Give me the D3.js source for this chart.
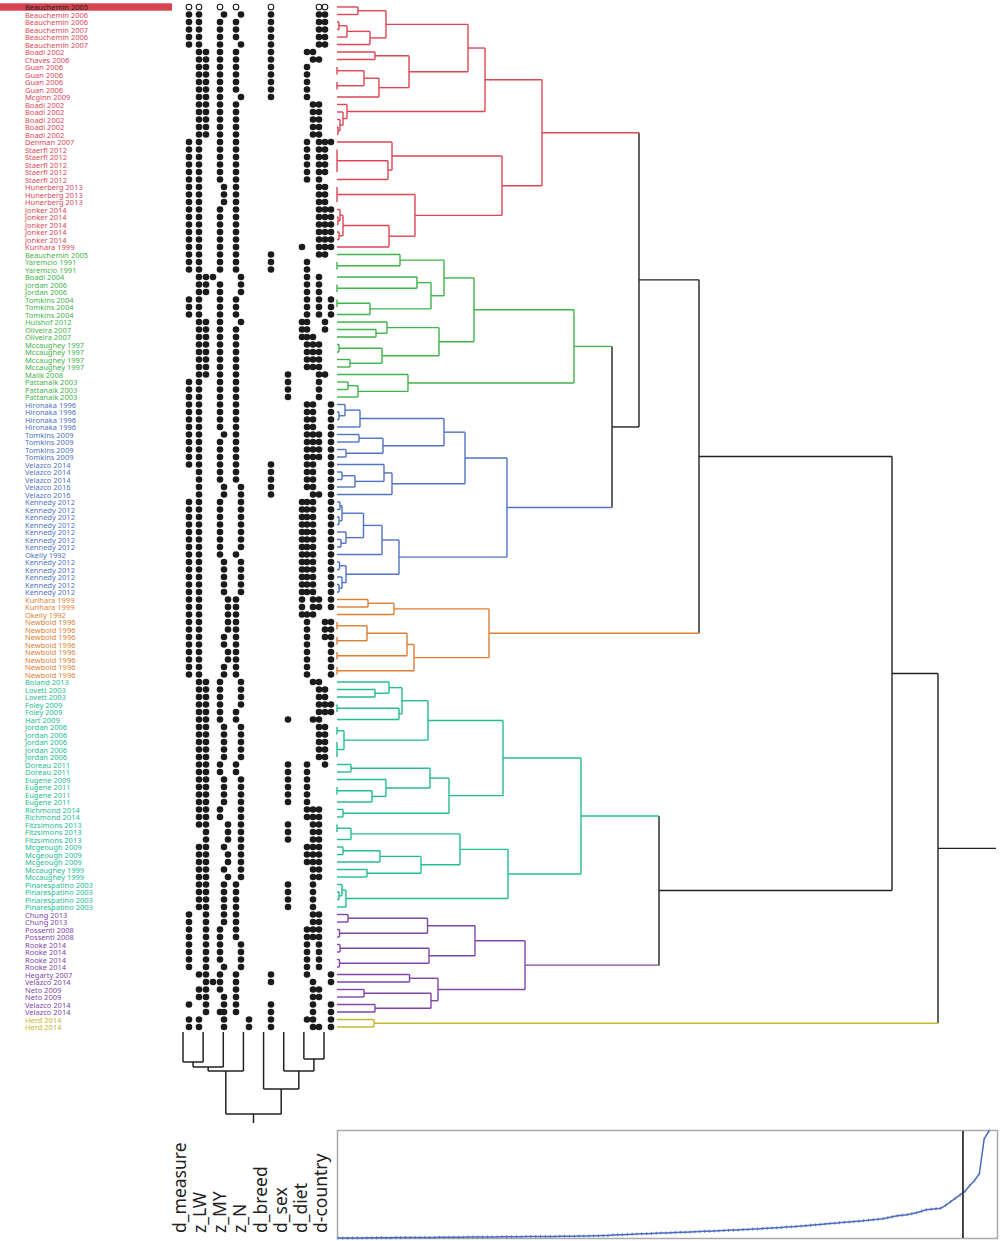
<!DOCTYPE html>
<html><head><meta charset="utf-8">
<script src="https://cdn.jsdelivr.net/npm/d3@7"></script>
<style>body{margin:0;background:#fff}</style>
</head><body><svg id="c" width="1000" height="1241"></svg>
<script>
// ---------------- DATA ----------------
const studies = [
"Beauchemin 2005","Beauchemin 2006","Beauchemin 2006","Beauchemin 2007","Beauchemin 2006","Beauchemin 2007",
"Boadi 2002","Chaves 2006","Guan 2006","Guan 2006","Guan 2006","Guan 2006","Mcginn 2009",
"Boadi 2002","Boadi 2002","Boadi 2002","Boadi 2002","Boadi 2002","Denman 2007",
"Staerfl 2012","Staerfl 2012","Staerfl 2012","Staerfl 2012","Staerfl 2012",
"Hunerberg 2013","Hunerberg 2013","Hunerberg 2013",
"Jonker 2014","Jonker 2014","Jonker 2014","Jonker 2014","Jonker 2014","Kurihara 1999",
"Beauchemin 2005","Yaremcio 1991","Yaremcio 1991","Boadi 2004","Jordan 2006","Jordan 2006",
"Tomkins 2004","Tomkins 2004","Tomkins 2004","Hulshof 2012","Oliveira 2007","Oliveira 2007",
"Mccaughey 1997","Mccaughey 1997","Mccaughey 1997","Mccaughey 1997","Malik 2008",
"Pattanaik 2003","Pattanaik 2003","Pattanaik 2003",
"Hironaka 1996","Hironaka 1996","Hironaka 1996","Hironaka 1996",
"Tomkins 2009","Tomkins 2009","Tomkins 2009","Tomkins 2009",
"Velazco 2014","Velazco 2014","Velazco 2014","Velazco 2016","Velazco 2016",
"Kennedy 2012","Kennedy 2012","Kennedy 2012","Kennedy 2012","Kennedy 2012","Kennedy 2012","Kennedy 2012",
"Okelly 1992","Kennedy 2012","Kennedy 2012","Kennedy 2012","Kennedy 2012","Kennedy 2012",
"Kurihara 1999","Kurihara 1999","Okelly 1992",
"Newbold 1996","Newbold 1996","Newbold 1996","Newbold 1996","Newbold 1996","Newbold 1996","Newbold 1996","Newbold 1996",
"Boland 2013","Lovett 2003","Lovett 2003","Foley 2009","Foley 2009","Hart 2009",
"Jordan 2006","Jordan 2006","Jordan 2006","Jordan 2006","Jordan 2006",
"Doreau 2011","Doreau 2011","Eugene 2009","Eugene 2011","Eugene 2011","Eugene 2011",
"Richmond 2014","Richmond 2014","Fitzsimons 2013","Fitzsimons 2013","Fitzsimons 2013",
"Mcgeough 2009","Mcgeough 2009","Mcgeough 2009","Mccaughey 1999","Mccaughey 1999",
"Pinarespatino 2003","Pinarespatino 2003","Pinarespatino 2003","Pinarespatino 2003",
"Chung 2013","Chung 2013","Possenti 2008","Possenti 2008",
"Rooke 2014","Rooke 2014","Rooke 2014","Rooke 2014",
"Hegarty 2007","Velazco 2014","Neto 2009","Neto 2009","Velazco 2014","Velazco 2014",
"Herd 2014","Herd 2014"
];
const clusterSizes = [33, 20, 26, 11, 31, 14, 2];
const clusterColors = ["#de4656", "#3fb449", "#5073c2", "#dc7f35", "#22bd91", "#8245aa", "#c4b92c"];
const highlightRow = 0;

const variables = ["d_measure", "z_LW", "z_MY", "z_N", "d_breed", "d_sex", "d_diet", "d-country"];

// dot slot values (position along the variable strip, in strip units 0..30)
const dotSlotValues = {a:1.8, b:3.8, c:5.2, x:6.6, d:8.0, e:8.8, r:9.6, f:11.2, g:12.2, h:13.8,
                       i:18.2, p:21.6, q:24.4, k:25.4, l:26.6, m:27.8, n:29.0, o:30.2};
const rowDots = [
"abdfimn","abegimn","abdfimn","abdfimn","abdfimn","abdgimn",
"bcdfikl","bcdfilm","bcdfik","bcdfik","bcdfik","bcdfik","bcdgik",
"bcdflm","bcdflm","bcdflm","bcdflm","bcdflm",
"abdfkmno",
"abdfkmn","abdfkmn","abdfkmn","abdfkmn","abdfkm",
"abefmn","abefmn","abefmn",
"abdfmno","abdfmno","abdfmno","abdfmno","abdfmno",
"abdfqmno",
"abdfimn","abdfik","abdfik",
"bcxgkm","bcdgkm","bcdgkm",
"abdfkmo","abdfkmo","abdfkmo",
"bcdgqkn","bcdfqkn","bcdfqkl",
"bcdfklm","bcdfklm","bcdfklm","bcdfklm",
"bcdfpmn",
"abdfpm","abdfpm","abdfpm",
"abdfklo","abdfklo","abdfklo","abdfklo",
"abefklmo","abdfklmo","abdfklmo","abdfklmo",
"abdfiklo","bdfiklo","bdfiklo","begiklo","begilmo",
"abdgqklo","abdgqklo","abdgqklo","abdgqklo","abdgqklo","abdgqklo","abdgqklo",
"abdfqklo",
"abegqklo","abegqklo","abegqklo","abegqklo","abegqklo",
"abrfqlmo","abrfqlmo","abrfqkl",
"abrfkno","abrfkno","abefkno","abefko","abrfko","abrfko","abefko","abefko",
"bcdglm","bcdgmn","bcdgmn","bcdgmno","bcdfmno","bcdfplm",
"bcegmn","bcegmn","bcegmn","bcegmn","bcegmn",
"bcdfpkn","bcdfpk",
"bcegpk","bcegpk","bcegpk","bcegpk",
"bcdgklm","bcdgklm",
"bcrgplm","crgplm","crgplm",
"bcegklm","bcrgklm","bcrgklm",
"bceglm","bcrglm",
"bcefpl","bcefpl","bcefpl","bcefpl",
"aceflm","aceflm","acdfklm","acdfklm",
"acdgkm","acdgkm","acdgkm","acegkm",
"bcdfiko","cxdfilo","bcdflm","bceflm","acefilo","cdefilo",
"abehiklo","abehilmo"
];

// row dendrogram: [mergeHeight, child, child, ...]; numbers are row numbers (1-based)
const rowTree =
[60.1,
  [55.5,
    [36.2,
      [30.2,
        [20.5,
          [14.8,
            [13.1,
              [4.9, [2.1,1,2], [3.3,[1.0,[0.2,3,4],5],6]],
              [7.2, [3.8,7,8], [4.2,[2.7,[0,9,10],[0,11,12]],13]]
            ],
            [1.0, 14, [0.6,15,[0.3,16,[0.1,17,18]]]]
          ],
          [16.5,
            [5.5, 19, [5.1,[0,20,21,22,23],24]],
            [7.8, [0,25,26,27], [5.2,[0.6,[0.3,28,[0.1,29,30]],[0.2,31,32]],33]]
          ]
        ],
        [27.5,
          [23.7,
            [13.7,
              [10.7, [6.3,34,[0,35,36]], [9.4,[8.0,37,[0,38,39]],[3.3,[0,40,41],42]]],
              [10.2, [5.0,43,[3.9,44,45]], [4.5,[0.2,46,47],[1.3,48,49]]]
            ],
            [7.1, 50, [2.1,[1.1,51,52],53]]
          ],
          [17.0,
            [12.8,
              [10.7, [2.3,[0.8,54,[0.2,55,56]],57], [4.6,[2.2,58,59],[0.9,60,61]]],
              [5.5, [4.7,62,[1.8,[0.5,63,64],65]], 66]
            ],
            [6.2,
              [4.5, [2.65,[0.5,[0.3,67,68],[0.2,69,70]],[0.9,71,[0.4,72,73]]], 74],
              [0.9, [0.25,75,76],[0.5,77,[0.2,78,79]]]
            ]
          ]
        ]
      ],
      [15.2,
        [5.7, [3.1,80,81], 82],
        [7.7, [7.0,[3.0,[0,83,84],[0,85,86]],[0,87,88]], [0,89,90]]
      ]
    ],
    [32.2,
      [24.4,
        [16.6,
          [9.1, [6.5,[5.2,91,[3.8,92,93]],[6.2,[0,94,95],96]], [0.7,[0,97,98],[0,99,100,101]]],
          [11.2, [9.3,[1.4,102,103],[4.9,104,[3.5,[0,105,106],107]]], [0.6,108,109]]
        ],
        [17.1,
          [12.3, [1.4,[0,110,111],112], [8.4,[4.3,[0.6,113,114],115],[3.0,116,117]]],
          [0.9, [0.5,118,[0.2,119,120]], 121]
        ]
      ],
      [18.8,
        [13.8, [9.05,[1.1,122,123],[0.25,124,125]], [9.2,[0.3,126,127],[0.25,128,129]]],
        [10.1, [7.25,130,131], [9.4,[2.7,132,133],[3.8,134,135]]]
      ]
    ]
  ],
  [3.7, 136, 137]
];
const rowTreeTail = 5.8;

// column dendrogram
const colTree = [8.2,
  [3.9, [3.5, [3.0, "d_measure", "z_LW"], "z_MY"], "z_N"],
  [5.7, "d_breed", [3.9, "d_sex", [2.7, "d_diet", "d-country"]]]];
const colTreeTail = 0.9;

// sorted merge heights (bottom panel)
const mergeHeights = [
0,0,0,0.1,0.1,0.1,0.2,0.2,0.2,0.3,
0.3,0.3,0.4,0.4,0.4,0.5,0.5,0.5,0.6,0.6,
0.6,0.7,0.7,0.7,0.8,0.8,0.8,0.9,0.9,1.0,
1.0,1.0,1.1,1.1,1.2,1.2,1.2,1.3,1.3,1.4,
1.4,1.5,1.5,1.5,1.6,1.6,1.7,1.7,1.8,1.8,
1.9,2.0,2.1,2.2,2.3,2.4,2.5,3.0,3.2,3.4,
3.6,3.8,4.0,4.2,4.4,4.6,4.8,5.0,5.1,5.3,
5.5,5.7,5.9,6.1,6.3,6.5,6.7,6.9,7.1,7.3,
7.5,7.7,8.0,8.2,8.5,8.7,9.0,9.2,9.5,9.8,
10.0,10.3,10.6,11.0,11.3,11.6,12.0,12.4,12.8,13.3,
13.7,14.2,14.7,15.0,15.4,15.8,16.2,16.6,17.0,17.5,
18.0,18.5,19.0,19.5,20.5,21.5,22.5,23.0,23.5,24.5,
25.5,27.0,28.5,29.0,29.5,30.0,33.0,36.5,40.0,43.5,
47.0,53.0,58.0,65.0,100.0,108.0];
const cutIndex = 129.6;

// ---------------- DRAW ----------------
const svg = d3.select("#c");
const nRows = studies.length;
const rowCluster = [];
clusterSizes.forEach((s, ci) => { for (let k = 0; k < s; k++) rowCluster.push(ci); });

const y = d3.scalePoint().domain(d3.range(nRows)).range([7, 1027]);
const stripX = d3.scaleLinear().domain([0, 30]).range([180, 330]);
const hx = d3.scaleLinear().domain([0, 60.1]).range([337, 938]);

// label highlight
svg.append("rect").attr("x", 0).attr("y", y(highlightRow) - 3.7).attr("width", 172).attr("height", 7.4)
  .attr("fill", "#d9434f");

// labels
svg.append("g").selectAll("text").data(studies).join("text")
  .attr("x", 25).attr("y", (d, i) => y(i))
  .attr("dominant-baseline", "central")
  .attr("font-family", "'Noto Sans', 'Open Sans', sans-serif")
  .attr("font-size", 7.5)
  .attr("fill", (d, i) => i === highlightRow ? "#222" : clusterColors[rowCluster[i]])
  .text(d => d);

// dots
const dots = [];
rowDots.forEach((s, i) => { for (const ch of s) dots.push({row: i, v: dotSlotValues[ch]}); });
svg.append("g").selectAll("circle").data(dots).join("circle")
  .attr("cx", d => stripX(d.v)).attr("cy", d => y(d.row)).attr("r", d => d.row === highlightRow ? 2.8 : 3.3)
  .attr("fill", d => d.row === highlightRow ? "#fff" : "#1b1b1b")
  .attr("stroke", "#1b1b1b").attr("stroke-width", d => d.row === highlightRow ? 1.1 : 0);

// row dendrogram
const root = d3.hierarchy(rowTree, d => Array.isArray(d) ? d.slice(1) : null);
root.eachAfter(n => {
  if (!n.children) { n.h = 0; n.py = y(n.data - 1); n.clusters = new Set([rowCluster[n.data - 1]]); }
  else {
    n.h = n.data[0];
    n.py = (n.children[0].py + n.children[n.children.length - 1].py) / 2;
    n.clusters = new Set(); n.children.forEach(c => c.clusters.forEach(v => n.clusters.add(v)));
  }
  n.color = n.clusters.size === 1 ? clusterColors[[...n.clusters][0]] : "#222";
});
const gd = svg.append("g").attr("fill", "none").attr("stroke-width", 1.4);
root.each(n => {
  if (n.parent) {
    gd.append("line").attr("x1", hx(n.h)).attr("x2", hx(n.parent.h)).attr("y1", n.py).attr("y2", n.py)
      .attr("stroke", n.color);
  }
  if (n.children) {
    gd.append("line").attr("x1", hx(n.h)).attr("x2", hx(n.h))
      .attr("y1", n.children[0].py).attr("y2", n.children[n.children.length - 1].py)
      .attr("stroke", n.color);
  }
});
gd.append("line").attr("x1", hx(root.h)).attr("x2", hx(root.h + rowTreeTail))
  .attr("y1", root.py).attr("y2", root.py).attr("stroke", "#222");

// column dendrogram
const cx = d3.scalePoint().domain(variables).range([183, 324]);
const cy = d3.scaleLinear().domain([0, 8.2]).range([1032, 1114]);
const croot = d3.hierarchy(colTree, d => Array.isArray(d) ? d.slice(1) : null);
croot.eachAfter(n => {
  if (!n.children) { n.h = 0; n.px = cx(n.data); }
  else { n.h = n.data[0]; n.px = (n.children[0].px + n.children[n.children.length - 1].px) / 2; }
});
const gc = svg.append("g").attr("stroke", "#222").attr("stroke-width", 1.5);
croot.each(n => {
  if (n.parent) gc.append("line").attr("x1", n.px).attr("x2", n.px).attr("y1", cy(n.h)).attr("y2", cy(n.parent.h));
  if (n.children) gc.append("line").attr("y1", cy(n.h)).attr("y2", cy(n.h))
    .attr("x1", n.children[0].px).attr("x2", n.children[n.children.length - 1].px);
});
gc.append("line").attr("x1", croot.px).attr("x2", croot.px).attr("y1", cy(croot.h)).attr("y2", cy(croot.h + colTreeTail));

// variable labels
svg.append("g").selectAll("text").data(variables).join("text")
  .attr("transform", d => `translate(${cx(d) + 3},1233) rotate(-90)`)
  .attr("font-family", "'Noto Sans', 'Open Sans', sans-serif")
  .attr("font-size", 17.5).attr("fill", "#222")
  .text(d => d);

// bottom panel
const bx = d3.scaleLinear().domain([0, mergeHeights.length - 1]).range([338, 989]);
const by = d3.scaleLinear().domain([0, 108]).range([1238, 1131]);
svg.append("rect").attr("x", 337.5).attr("y", 1130.5).attr("width", 660).attr("height", 108)
  .attr("fill", "none").attr("stroke", "#aaa").attr("stroke-width", 1.5);
svg.append("path").datum(mergeHeights)
  .attr("d", d3.line().x((d, i) => bx(i)).y(d => by(d)))
  .attr("fill", "none").attr("stroke", "#4a6cc0").attr("stroke-width", 1.5);
svg.append("g").selectAll("line").data(mergeHeights).join("line")
  .attr("x1", (d, i) => bx(i)).attr("x2", (d, i) => bx(i))
  .attr("y1", d => by(d) - 1.6).attr("y2", d => by(d) + 1.6)
  .attr("stroke", "#4a6cc0").attr("stroke-width", 0.8);
svg.append("line").attr("x1", bx(cutIndex)).attr("x2", bx(cutIndex)).attr("y1", 1131).attr("y2", 1238)
  .attr("stroke", "#333").attr("stroke-width", 1.8);
</script></body></html>
